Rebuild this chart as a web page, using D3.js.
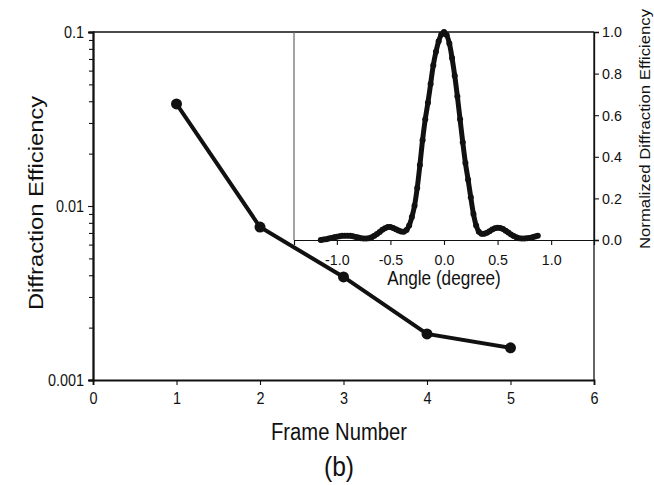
<!DOCTYPE html>
<html>
<head>
<meta charset="utf-8">
<script src="https://cdn.jsdelivr.net/npm/d3@7"></script>
<style>
  body { margin: 0; background: #fff; }
  text { font-family: "Liberation Sans", Arial, sans-serif; fill: #111; }
</style>
</head>
<body>
<svg width="654" height="485"></svg>
<script>
const frames = [1, 2, 3, 4, 5]
const efficiency = [0.0386, 0.00757, 0.00391, 0.00184, 0.00153]

const angles = [
  -1.150, -1.125, -1.100, -1.075, -1.050, -1.025, -1.000, -0.975, -0.950, -0.925,
  -0.900, -0.875, -0.850, -0.825, -0.800, -0.775, -0.750, -0.725, -0.700, -0.675,
  -0.650, -0.625, -0.600, -0.575, -0.550, -0.525, -0.500, -0.475, -0.450, -0.425,
  -0.400, -0.375, -0.350, -0.325, -0.300, -0.275, -0.250, -0.225, -0.200, -0.175,
  -0.150, -0.125, -0.100, -0.075, -0.050, -0.025, 0.000, 0.025, 0.050, 0.075,
  0.100, 0.125, 0.150, 0.175, 0.200, 0.225, 0.250, 0.275, 0.300, 0.325,
  0.350, 0.375, 0.400, 0.425, 0.450, 0.475, 0.500, 0.525, 0.550, 0.575,
  0.600, 0.625, 0.650, 0.675, 0.700, 0.725, 0.750, 0.775, 0.800, 0.825,
  0.850, 0.875
]
const normEff = [
  0.000, 0.002, 0.004, 0.007, 0.010, 0.013, 0.016, 0.018, 0.020, 0.021,
  0.021, 0.020, 0.018, 0.015, 0.012, 0.009, 0.007, 0.007, 0.009, 0.013,
  0.020, 0.029, 0.039, 0.049, 0.057, 0.062, 0.062, 0.058, 0.052, 0.046,
  0.041, 0.040, 0.048, 0.070, 0.110, 0.165, 0.250, 0.360, 0.480, 0.580,
  0.660, 0.750, 0.840, 0.905, 0.955, 0.988, 1.000, 0.985, 0.945, 0.875,
  0.790, 0.690, 0.580, 0.470, 0.370, 0.290, 0.205, 0.125, 0.070, 0.040,
  0.030, 0.030, 0.035, 0.042, 0.050, 0.056, 0.059, 0.058, 0.053, 0.045,
  0.036, 0.027, 0.019, 0.013, 0.009, 0.007, 0.007, 0.008, 0.010, 0.013,
  0.017, 0.021
]

const xTicks = [0, 1, 2, 3, 4, 5, 6]
const yTicks = [0.001, 0.01, 0.1]
const insetXTicks = [-1.0, -0.5, 0.0, 0.5, 1.0]
const insetYTicks = [0.0, 0.2, 0.4, 0.6, 0.8, 1.0]

const svg = d3.select('svg')
const margin = {left: 93, right: 60, top: 32, bottom: 105}
const width = +svg.attr('width')
const height = +svg.attr('height')

const xScale = d3.scaleLinear().domain([0, 6]).range([margin.left, width - margin.right])
const yScale = d3.scaleLog().domain([0.001, 0.1]).range([height - margin.bottom, margin.top])

// inset shares the top right corner of the main frame
const insetLeft = 294
const insetBottom = 240
const xInset = d3.scaleLinear().domain([-1.4, 1.4]).range([insetLeft, width - margin.right])
const yInset = d3.scaleLinear().domain([0, 1]).range([insetBottom, margin.top])

// the scan is a bit taller than wide, so glyphs get squeezed / stretched along the text
const fit = (sel, k) => sel.each(function () {
  const len = this.getComputedTextLength()
  d3.select(this).attr('textLength', len * k).attr('lengthAdjust', 'spacingAndGlyphs')
})

const styleAxis = (g, w, fs, k) => {
  g.select('.domain').attr('stroke', '#111').attr('stroke-width', w)
  g.selectAll('.tick line').attr('stroke', '#111').attr('stroke-width', 1.1)
  g.selectAll('.tick text').attr('font-size', fs).attr('fill', '#111').call(fit, k)
}

const oneDecimal = d => d.toFixed(1)

// frame lines
svg.append('line')
  .attr('x1', xScale(0)).attr('x2', xScale(6))
  .attr('y1', yScale(0.1)).attr('y2', yScale(0.1))
  .attr('stroke', '#111').attr('stroke-width', 1.5)
svg.append('line')
  .attr('x1', xScale(6)).attr('x2', xScale(6))
  .attr('y1', yScale(0.1)).attr('y2', yScale(0.001))
  .attr('stroke', '#111').attr('stroke-width', 1.3)

// main axes
const minor = []
yTicks.slice(0, -1).forEach(d => { for (let k = 2; k <= 9; k++) minor.push(d * k) })

svg.append('g')
  .attr('transform', `translate(${margin.left},0)`)
  .call(d3.axisLeft(yScale).tickValues(minor).tickSize(4).tickFormat(''))
  .call(g => styleAxis(g, 1.8, 16, 0.9))

svg.append('g')
  .attr('transform', `translate(${margin.left},0)`)
  .call(d3.axisLeft(yScale).tickValues(yTicks).tickSize(5).tickPadding(4).tickFormat(d => String(d)))
  .call(g => styleAxis(g, 1.8, 16, 0.9))

svg.append('g')
  .attr('transform', `translate(0,${height - margin.bottom})`)
  .call(d3.axisBottom(xScale).tickValues(xTicks).tickSize(5).tickPadding(8).tickFormat(d3.format('d')))
  .call(g => styleAxis(g, 1.8, 16, 0.9))

// inset axes
svg.append('line')
  .attr('x1', insetLeft).attr('x2', insetLeft)
  .attr('y1', margin.top).attr('y2', insetBottom)
  .attr('stroke', '#666').attr('stroke-width', 1.2)

svg.append('g')
  .attr('transform', `translate(0,${insetBottom})`)
  .call(d3.axisBottom(xInset).tickValues(insetXTicks).tickSize(5).tickPadding(9).tickFormat(oneDecimal))
  .call(g => styleAxis(g, 1.2, 15.5, 0.92))

svg.append('g')
  .attr('transform', `translate(${width - margin.right},0)`)
  .call(d3.axisRight(yInset).tickValues(insetYTicks).tickSize(5).tickPadding(3).tickFormat(oneDecimal))
  .call(g => styleAxis(g, 1.3, 15.5, 0.92))

// inset curve
const insetData = angles.map((a, i) => ({a, v: normEff[i]}))
svg.append('path')
  .datum(insetData)
  .attr('fill', 'none')
  .attr('stroke', '#111')
  .attr('stroke-width', 5)
  .attr('stroke-linejoin', 'round')
  .attr('stroke-linecap', 'round')
  .attr('d', d3.line().x(d => xInset(d.a)).y(d => yInset(d.v)).curve(d3.curveCatmullRom))
svg.append('g').selectAll('circle')
  .data(insetData)
  .enter()
  .append('circle')
  .attr('cx', d => xInset(d.a))
  .attr('cy', d => yInset(d.v))
  .attr('r', 3)
  .attr('fill', '#111')

// main series
const mainData = frames.map((f, i) => ({f, e: efficiency[i]}))
svg.append('path')
  .datum(mainData)
  .attr('fill', 'none')
  .attr('stroke', '#111')
  .attr('stroke-width', 4)
  .attr('d', d3.line().x(d => xScale(d.f)).y(d => yScale(d.e)))
svg.append('g').selectAll('circle')
  .data(mainData)
  .enter()
  .append('circle')
  .attr('cx', d => xScale(d.f))
  .attr('cy', d => yScale(d.e))
  .attr('r', 5.5)
  .attr('fill', '#111')

// labels
svg.append('text')
  .attr('transform', `translate(43,203) rotate(-90)`)
  .attr('text-anchor', 'middle')
  .attr('font-size', 21)
  .text('Diffraction Efficiency')
  .call(fit, 1.13)

svg.append('text')
  .attr('transform', `translate(650,129) rotate(-90)`)
  .attr('text-anchor', 'middle')
  .attr('font-size', 14.8)
  .text('Normalized Diffraction Efficiency')
  .call(fit, 1.13)

svg.append('text')
  .attr('x', xInset(0)).attr('y', 285)
  .attr('text-anchor', 'middle')
  .attr('font-size', 19.5)
  .text('Angle (degree)')
  .call(fit, 0.88)

svg.append('text')
  .attr('x', 339).attr('y', 440)
  .attr('text-anchor', 'middle')
  .attr('font-size', 23)
  .text('Frame Number')
  .call(fit, 0.88)

svg.append('text')
  .attr('x', 339).attr('y', 476)
  .attr('text-anchor', 'middle')
  .attr('font-size', 28)
  .text('(b)')
  .call(fit, 0.88)
</script>
</body>
</html>
